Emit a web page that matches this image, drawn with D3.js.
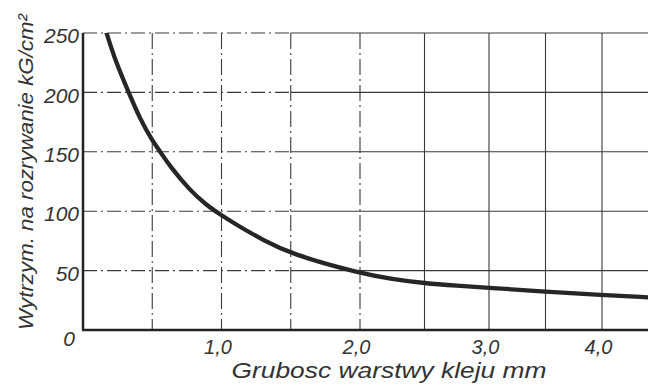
<!DOCTYPE html>
<html><head><meta charset="utf-8">
<script src="https://cdn.jsdelivr.net/npm/d3@7"></script>
<style>
html,body{margin:0;padding:0;background:#fff;}
svg{display:block;}
text{font-family:"Liberation Sans","DejaVu Sans",sans-serif;font-style:italic;fill:#333;}
</style></head>
<body><svg id="c" width="648" height="387"></svg>
<script>
// Data
const thickness = [0.17, 0.24, 0.33, 0.41, 0.5, 0.56, 0.63, 0.77, 0.89, 1.0, 1.13, 1.3, 1.5, 2.0, 2.25, 2.5, 2.75, 3.0, 3.5, 4.0, 4.45];
const strength  = [250, 224.5, 200, 178, 159.5, 149.6, 137.5, 117.8, 105.2, 96.5, 87, 75.8, 64, 47.7, 42.9, 39.3, 37.3, 35.6, 32.2, 29.5, 27.5];
const xTicks = [1, 2, 3, 4];
const xTickLabels = ["1,0", "2,0", "3,0", "4,0"];
const xGrid = [0.5, 1, 1.5, 2, 2.5, 3, 3.5, 4];
const yTicks = [0, 50, 100, 150, 200, 250];
const yTitle = "Wytrzym. na rozrywanie kG/cm²";
const xTitle = "Grubosc warstwy kleju  mm";

const svg = d3.select("#c");
// scanned page is slightly distorted horizontally: piecewise-linear scale
const x = d3.scaleLinear().domain([0, 2, 3, 4, 4.45]).range([83, 360, 489, 602, 648]);
const y = d3.scaleLinear().domain([0, 250]).range([330, 33]);
const xMax = 4.45;

const grid = svg.append("g").attr("stroke", "#3a3a3a").attr("stroke-width", 1.1).attr("fill", "none");
// horizontal grid: dash-dot on the left part, solid on the right
yTicks.filter(v => v > 0).forEach(v => {
  grid.append("line").attr("x1", x(0)).attr("x2", x(1.5)).attr("y1", y(v)).attr("y2", y(v))
    .attr("stroke-dasharray", "14,4,2,4");
  grid.append("line").attr("x1", x(1.5)).attr("x2", x(xMax)).attr("y1", y(v)).attr("y2", y(v));
});
xGrid.forEach(v => {
  grid.append("line").attr("x1", x(v)).attr("x2", x(v)).attr("y1", y(250)).attr("y2", y(0))
    .attr("stroke-dasharray", v <= 2 ? "16,4,2,4" : null);
});

// axis lines
svg.append("line").attr("x1", x(0)).attr("x2", x(0)).attr("y1", y(250)).attr("y2", y(0))
  .attr("stroke", "#222").attr("stroke-width", 2.5);
svg.append("line").attr("x1", x(0) - 1).attr("x2", x(xMax)).attr("y1", y(0)).attr("y2", y(0))
  .attr("stroke", "#222").attr("stroke-width", 2.5);

// curve
svg.append("defs").append("clipPath").attr("id", "clip").append("rect")
  .attr("x", x(0)).attr("y", y(250)).attr("width", x(xMax) - x(0)).attr("height", y(0) - y(250));
const pts = thickness.map((t, i) => [t, strength[i]]);
svg.append("path").datum(pts)
  .attr("clip-path", "url(#clip)")
  .attr("fill", "none").attr("stroke", "#262626").attr("stroke-width", 4.3)
  .attr("stroke-linecap", "round")
  .attr("d", d3.line().x(d => x(d[0])).y(d => y(d[1])).curve(d3.curveBasis));

// y axis labels
const ya = svg.append("g").attr("transform", `translate(${x(0)},3)`)
  .call(d3.axisLeft(y).tickValues(yTicks).tickSize(0).tickPadding(4).tickFormat(d3.format("d")));
ya.select(".domain").remove();
ya.selectAll("text").style("font-size", "21px").style("font-family", "'Liberation Sans',sans-serif")
  .attr("fill", "#333");
ya.selectAll(".tick").filter(d => d === 0).select("text").attr("dy", "0.6em").attr("x", -8);

// x axis labels
const xa = svg.append("g").attr("transform", `translate(-4,${y(0)})`)
  .call(d3.axisBottom(x).tickValues(xTicks).tickSize(0).tickPadding(10)
    .tickFormat((d, i) => xTickLabels[i]));
xa.select(".domain").remove();
xa.selectAll("text").style("font-size", "20px").style("font-family", "'Liberation Sans',sans-serif")
  .attr("fill", "#333");

// titles
svg.append("text").attr("transform", "translate(25,172) rotate(-90)")
  .attr("text-anchor", "middle").attr("dominant-baseline", "central")
  .style("font-size", "21px").attr("textLength", 316).attr("lengthAdjust", "spacingAndGlyphs")
  .text(yTitle);
svg.append("text").attr("x", 389).attr("y", 378).attr("text-anchor", "middle")
  .style("font-size", "22px").attr("textLength", 315).attr("lengthAdjust", "spacingAndGlyphs")
  .text(xTitle);
</script></body></html>
